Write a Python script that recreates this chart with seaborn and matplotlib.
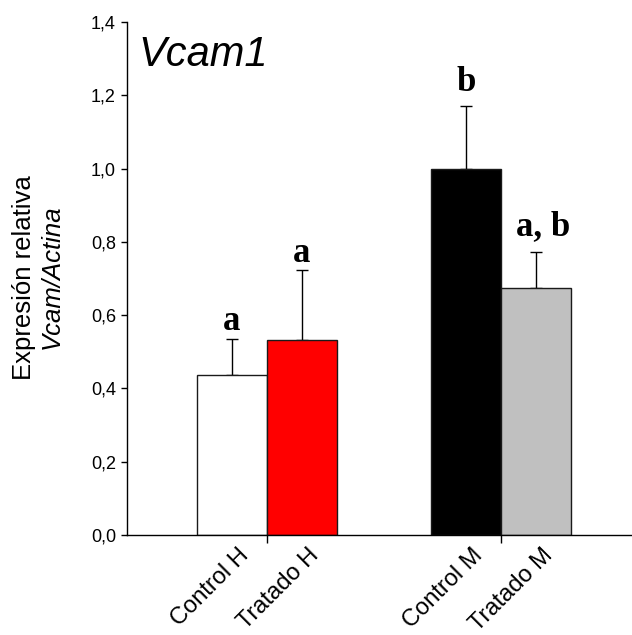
import matplotlib
matplotlib.use("Agg")
import matplotlib.pyplot as plt
import matplotlib.transforms as mtransforms
import numpy as np
import pandas as pd
import seaborn as sns

# Relative Vcam1 expression (normalised to actin), mean + SEM
groups = ["H", "H", "M", "M"]
treatments = ["Control", "Tratado", "Control", "Tratado"]
tick_labels = ["Control H", "Tratado H", "Control M", "Tratado M"]
means = [0.437, 0.532, 1.000, 0.674]
sem = [0.097, 0.190, 0.171, 0.098]
letters = ["a", "a", "b", "a, b"]
bar_colors = ["#FFFFFF", "#FF0000", "#000000", "#C0C0C0"]
ytick_values = [0.0, 0.2, 0.4, 0.6, 0.8, 1.0, 1.2, 1.4]
ytick_labels = ["0,0", "0,2", "0,4", "0,6", "0,8", "1,0", "1,2", "1,4"]

df = pd.DataFrame({"grupo": groups, "tratamiento": treatments,
                   "valor": means, "sem": sem, "letra": letters,
                   "etiqueta": tick_labels})

sns.set_theme(style="ticks")
plt.rcParams["font.family"] = ["Liberation Sans", "DejaVu Sans"]
for key in ["text.color", "axes.labelcolor", "xtick.color", "ytick.color",
            "axes.edgecolor"]:
    plt.rcParams[key] = "black"

fig = plt.figure(figsize=(6.32, 6.35), dpi=100)
ax = fig.add_axes([127 / 632, 100 / 635, 505 / 632, 513 / 635])

sns.barplot(data=df, x="grupo", y="valor", hue="tratamiento",
            hue_order=["Control", "Tratado"], order=["H", "M"],
            width=0.6, errorbar=None, legend=False, ax=ax,
            edgecolor="#1a1a1a", linewidth=1.0, saturation=1)

# colour each bar and collect its centre / height
bars = sorted([p for p in ax.patches if p.get_height() > 0],
              key=lambda p: p.get_x())
centers, heights = [], []
for bar, color in zip(bars, bar_colors):
    bar.set_facecolor(color)
    centers.append(bar.get_x() + bar.get_width() / 2)
    heights.append(bar.get_height())

# upward SEM whiskers
ax.errorbar(centers, heights, yerr=[np.zeros(len(sem)), sem], fmt="none",
            ecolor="black", elinewidth=1.0, capsize=4.2, capthick=1.0,
            zorder=1)
for bar in bars:
    bar.set_zorder(2)

# significance letters
label_pad = [9, 8, 15, 17]
label_shift = [0, 0, 0, 7]
for x, h, s, txt, pad, dx in zip(centers, heights, sem, letters,
                                 label_pad, label_shift):
    ax.annotate(txt, xy=(x, h + s), xytext=(dx * 0.72, pad * 0.72),
                textcoords="offset points", ha="center", va="baseline",
                fontsize=25, fontweight="bold",
                family=["Liberation Serif", "DejaVu Serif"])

ax.set_ylim(0, 1.4)
ax.set_xlim(-0.598, 1.56)
ax.set_yticks(ytick_values)
ax.set_yticklabels(ytick_labels, fontsize=13)
ax.tick_params(axis="y", direction="out", length=4, width=1, pad=4)

# category labels under each bar, tick marks only between bar pairs
ax.set_xticks(centers)
ax.set_xticklabels(tick_labels, rotation=45, ha="right",
                   rotation_mode="anchor", fontsize=17)
ax.tick_params(axis="x", which="major", length=0, pad=7)
shift = mtransforms.ScaledTranslation(6 / 100, 0, fig.dpi_scale_trans)
for lab in ax.get_xticklabels():
    lab.set_transform(lab.get_transform() + shift)
ax.set_xticks([0, 1], minor=True)
ax.tick_params(axis="x", which="minor", direction="out", length=6, width=1)
ax.set_xlabel("")
ax.set_ylabel("")

for side in ["top", "right"]:
    ax.spines[side].set_visible(False)
for side in ["left", "bottom"]:
    ax.spines[side].set_linewidth(1.0)

ax.text(0.023, 0.975, "Vcam1", transform=ax.transAxes, fontsize=30,
        style="italic", ha="left", va="top")

fig.text(24 / 632, 1 - 278 / 635, "Expresión relativa", rotation=90,
         fontsize=18.5, ha="center", va="center")
fig.text(52 / 632, 1 - 277 / 635, "Vcam/Actina", rotation=90,
         fontsize=18.5, style="italic", ha="center", va="center")

fig.savefig("out.png", dpi=100, facecolor="white")
